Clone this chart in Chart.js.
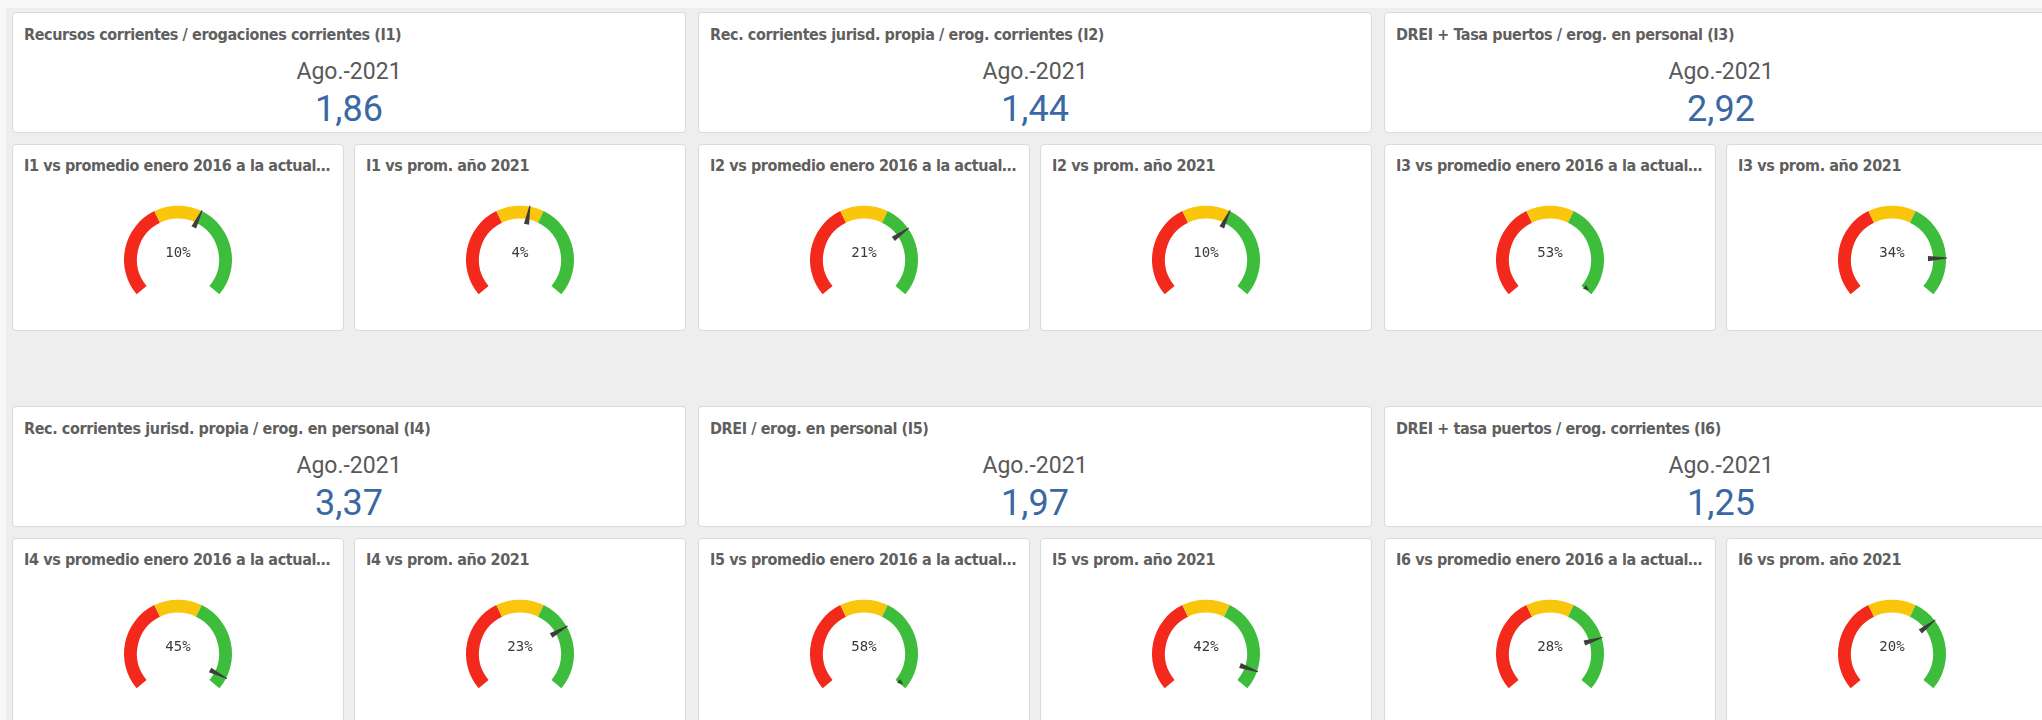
<!DOCTYPE html>
<html>
<head>
<meta charset="utf-8">
<script src="https://cdn.jsdelivr.net/npm/chart.js@4.4.0/dist/chart.umd.min.js"></script>
<style>
  html, body { margin: 0; padding: 0; }
  body { width: 2042px; height: 720px; overflow: hidden; position: relative; background: #f8f8f8; font-family: Roboto, "Open Sans", sans-serif; }
  #board { position: absolute; left: 6px; top: 8px; right: 0; bottom: 0; background: #eeeeee; }
  .card { position: absolute; background: #fff; border: 1px solid #dadada; border-radius: 4px; box-sizing: border-box; overflow: hidden; }
  .title { position: absolute; left: 11px; right: 6px; height: 20px; line-height: 20px; font-family: "Liberation Sans Narrow", "DejaVu Sans Condensed", Roboto, sans-serif; font-stretch: condensed; font-weight: bold; font-size: 16px; letter-spacing: -0.4px; color: #5f5f5f; white-space: nowrap; overflow: hidden; text-overflow: ellipsis; }
  .period { position: absolute; left: 0; right: 0; top: 45px; height: 28px; line-height: 28px; text-align: center; font-size: 23px; color: #595959; }
  .value { position: absolute; left: 0; right: 0; top: 76px; height: 40px; line-height: 40px; text-align: center; font-size: 36px; color: #3a68a3; }
  .gauge { position: absolute; left: 0; right: 0; top: 57px; height: 96px; }
  .pct { position: absolute; transform: translate(-50%, -50%); font-family: "DejaVu Sans Mono", "Liberation Mono", monospace; font-size: 14px; color: #3a3a3a; white-space: nowrap; }
</style>
</head>
<body>
<div id="board"></div>
<script>
// indicator data (Ago.-2021)
const indicators = ['I1', 'I2', 'I3', 'I4', 'I5', 'I6'];
const kpiTitles = [
  'Recursos corrientes / erogaciones corrientes (I1)',
  'Rec. corrientes jurisd. propia / erog. corrientes (I2)',
  'DREI + Tasa puertos / erog. en personal (I3)',
  'Rec. corrientes jurisd. propia / erog. en personal (I4)',
  'DREI / erog. en personal (I5)',
  'DREI + tasa puertos / erog. corrientes (I6)'
];
const periodLabel = 'Ago.-2021';
const kpiValues = [1.86, 1.44, 2.92, 3.37, 1.97, 1.25];
const pctVsHistAvg = [10, 21, 53, 45, 58, 28];
const pctVsYearAvg = [4, 10, 34, 23, 42, 20];
const histTitle = ' vs promedio enero 2016 a la actual…';
const yearTitle = ' vs prom. año 2021';
// gauge bands: red / yellow / green limits in %
const bandLimits = [-50, -10, 10, 50];
const bandColors = ['#f2291b', '#fac60c', '#3dbd3b'];

const gaugeMin = bandLimits[0];
const gaugeMax = bandLimits[bandLimits.length - 1];
const bandSizes = bandLimits.slice(1).map((l, i) => l - bandLimits[i]);

function fmt(v) {
  return v.toFixed(2).replace('.', ',');
}

function card(left, top, width, height) {
  const el = document.createElement('div');
  el.className = 'card';
  el.style.left = left + 'px';
  el.style.top = top + 'px';
  el.style.width = width + 'px';
  el.style.height = height + 'px';
  document.body.appendChild(el);
  return el;
}

function addTitle(parent, text, top) {
  const t = document.createElement('div');
  t.className = 'title';
  t.style.top = top + 'px';
  t.textContent = text;
  parent.appendChild(t);
}

const needlePlugin = {
  id: 'needle',
  afterDatasetsDraw(chart, args, opts) {
    const meta = chart.getDatasetMeta(0);
    const first = meta.data[0];
    const last = meta.data[meta.data.length - 1];
    const { x, y, outerRadius } = first;
    const start = first.startAngle;
    const end = last.endAngle;
    const frac = (opts.value - gaugeMin) / (gaugeMax - gaugeMin);
    const ctx = chart.ctx;
    ctx.save();
    ctx.translate(x, y);
    ctx.fillStyle = '#3d3d3d';
    ctx.beginPath();
    if (frac <= 1) {
      ctx.rotate(start + frac * (end - start));
      ctx.moveTo(outerRadius - 18, -2.6);
      ctx.lineTo(outerRadius + 1, -0.5);
      ctx.lineTo(outerRadius + 1, 0.5);
      ctx.lineTo(outerRadius - 18, 2.6);
    } else {
      // out of range: small marker at the end of the arc
      ctx.rotate(end - 0.03);
      ctx.moveTo(outerRadius - 10, -2.5);
      ctx.lineTo(outerRadius - 4, 0);
      ctx.lineTo(outerRadius - 10, 2.5);
    }
    ctx.closePath();
    ctx.fill();
    ctx.restore();

    // keep the % label on the arc centre
    if (opts.label) {
      opts.label.style.left = x + 'px';
      opts.label.style.top = (y - 8) + 'px';
    }
  }
};

function gauge(parent, value) {
  const box = document.createElement('div');
  box.className = 'gauge';
  const canvas = document.createElement('canvas');
  box.appendChild(canvas);
  const label = document.createElement('div');
  label.className = 'pct';
  label.textContent = value + '%';
  box.appendChild(label);
  parent.appendChild(box);

  new Chart(canvas, {
    type: 'doughnut',
    data: {
      labels: ['rojo', 'amarillo', 'verde'],
      datasets: [{
        data: bandSizes,
        backgroundColor: bandColors,
        borderWidth: 0
      }]
    },
    options: {
      responsive: true,
      maintainAspectRatio: false,
      animation: false,
      rotation: -130,
      circumference: 260,
      radius: 54,
      cutout: '76%',
      events: [],
      plugins: {
        legend: { display: false },
        tooltip: { enabled: false },
        needle: { value: value, label: label }
      }
    },
    plugins: [needlePlugin]
  });
}

indicators.forEach((ind, i) => {
  const row = Math.floor(i / 3);
  const col = i % 3;
  const colLeft = 12 + col * 686;
  const kpiTop = 12 + row * 394;
  const gaugeTop = 144 + row * 394;

  const kpi = card(colLeft, kpiTop, 674, 121);
  addTitle(kpi, kpiTitles[i], 12);
  const per = document.createElement('div');
  per.className = 'period';
  per.textContent = periodLabel;
  kpi.appendChild(per);
  const val = document.createElement('div');
  val.className = 'value';
  val.textContent = fmt(kpiValues[i]);
  kpi.appendChild(val);

  const g1 = card(colLeft, gaugeTop, 332, 187);
  addTitle(g1, ind + histTitle, 11);
  gauge(g1, pctVsHistAvg[i]);

  const g2 = card(colLeft + 342, gaugeTop, 332, 187);
  addTitle(g2, ind + yearTitle, 11);
  gauge(g2, pctVsYearAvg[i]);
});
</script>
</body>
</html>
